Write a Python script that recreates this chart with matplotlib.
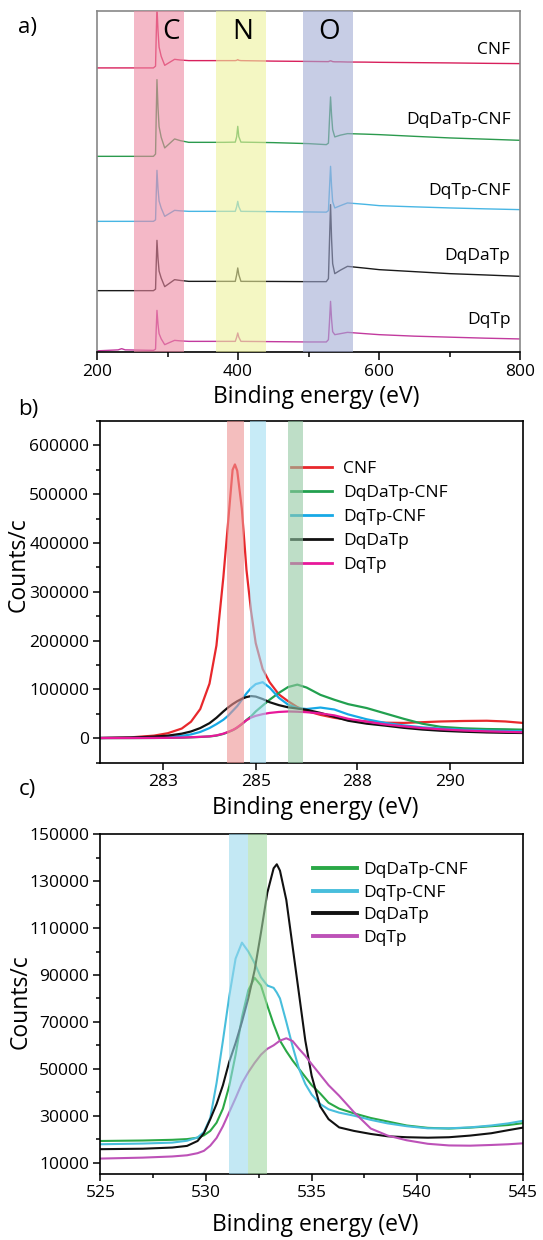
import matplotlib
matplotlib.use("Agg")
import matplotlib.pyplot as plt
from matplotlib.ticker import MultipleLocator

plt.rcParams['font.family'] = ['Open Sans', 'DejaVu Sans']

# ---------------- (a) survey spectra, stacked ----------------
survey_ev = [200, 230, 235, 240, 280, 283, 284, 285, 286.5, 288, 291, 296, 303, 310, 318,
             330, 380, 396, 398, 399.5, 401, 404, 450, 500, 525, 528, 529.5, 531, 532.5,
             534, 537, 545, 555, 580, 600, 650, 700, 750, 800]
survey_cnf = [283.7, 283.7, 283.7, 283.7, 283.7, 285.5, 317.4, 345, 320.7, 304.5, 295.3, 286.3,
              289.3, 292.3, 291.6, 291, 291, 291, 291.3, 292, 291.3, 291, 290.5, 290.2, 290,
              290, 290.5, 290.8, 290.5, 290, 289.8, 289.8, 289.6, 289.5, 289.3, 289, 288.7,
              288.3, 288]
survey_dqdatp_cnf = [195.3, 195.3, 195.3, 195.3, 195.3, 197.6, 237.5, 272, 243.8, 225, 214.3,
                     203.7, 208.2, 212.7, 211, 209.3, 209.3, 209.5, 215, 225.3, 215, 209.5, 209,
                     208, 207, 208.5, 232, 254.7, 236, 222, 214.7, 216.5, 218, 217.5, 217,
                     215.3, 213.7, 212.5, 211.3]
survey_dqtp_cnf = [130.3, 130.3, 130.3, 130.3, 130.3, 131.8, 158.4, 181.3, 162.8, 150.6, 143.6,
                   135.3, 138.3, 141.3, 140.8, 140.3, 140.3, 140.3, 145, 150.3, 145, 140.3, 140,
                   139.7, 139.5, 141, 163, 185.3, 165, 150, 143.7, 146, 148.7, 147.3, 146,
                   144.8, 143.7, 142.8, 142]
survey_dqdatp = [61, 61, 61, 61, 61, 62.5, 88.7, 111.3, 92.9, 80.6, 73.6, 65, 68.5, 72, 71.2,
                 70.3, 70.3, 70.3, 77, 83.7, 77, 70.3, 70.2, 70, 70, 73, 110, 147, 112, 88, 78,
                 81.5, 85.3, 83.5, 82, 80, 78, 76.7, 75.3]
survey_dqtp = [0.8, 1.8, 3, 1.8, 1.3, 2.5, 23.3, 41.3, 27.3, 18, 12.8, 7, 9.2, 11.3, 10.8, 10.3,
               10.3, 10.3, 14.5, 18.7, 14.5, 10.3, 10, 9.7, 9.7, 12, 30, 50.3, 32, 20, 17, 18,
               19.3, 18, 17, 15.5, 14.5, 13.5, 12.7]

survey_names = ['CNF', 'DqDaTp-CNF', 'DqTp-CNF', 'DqDaTp', 'DqTp']
survey_label_y = [302, 232, 160.3, 96, 31.3]
element_names = ['C', 'N', 'O']
element_x = [305.5, 406, 528.7]

# ---------------- (b) C 1s ----------------
c1s_ev = [281.64, 282.3, 282.8, 283.1, 283.4, 283.6, 283.8, 284.0, 284.15, 284.3, 284.4, 284.5,
          284.55, 284.6, 284.7, 284.8, 284.9, 285.0, 285.15, 285.3, 285.5, 285.7, 285.9, 286.1,
          286.4, 286.7, 287.0, 287.4, 287.8, 288.2, 288.6, 289.0, 289.5, 290.0, 290.4, 290.78]
c1s_cnf = [700, 2000, 5500, 10500, 20000, 34000, 60000, 112000, 190000, 330000, 440000, 550000,
           561000, 548000, 470000, 345000, 260000, 195000, 142000, 115000, 90000, 76000, 64000,
           56000, 48000, 42000, 38000, 34500, 32000, 31500, 33000, 34500, 35500, 36000, 34500,
           31500]
c1s_dqdatp_cnf = [400, 500, 700, 900, 1300, 2000, 2800, 3800, 5500, 9000, 12500, 16500, 19000,
                  22000, 29000, 37500, 45000, 55000, 67000, 79000, 93000, 105000, 110000, 104000,
                  89000, 79000, 70000, 62000, 51000, 40000, 30000, 23500, 20500, 19000, 18500,
                  17700]
c1s_dqtp_cnf = [700, 1000, 1800, 2800, 5000, 8000, 13000, 21000, 29000, 38000, 46000, 56000,
                61000, 66000, 79000, 92000, 103000, 111000, 115000, 104000, 83000, 69000, 62000,
                60000, 63000, 59000, 49000, 39000, 31500, 26500, 22500, 20000, 17500, 15800,
                15000, 14300]
c1s_dqdatp = [700, 1500, 3500, 5500, 9500, 14000, 21000, 31000, 42000, 55000, 63000, 70000,
              73000, 76000, 81000, 84500, 86500, 85500, 80500, 74000, 68000, 63500, 61000, 58500,
              52000, 44000, 36000, 30000, 26000, 21500, 18000, 15500, 13500, 12000, 11300, 10900]
c1s_dqtp = [500, 600, 800, 1000, 1500, 2200, 3000, 4000, 6000, 9500, 13000, 17000, 19500, 22500,
            29500, 37000, 42500, 46000, 49500, 52000, 54000, 55000, 54500, 53500, 51000, 47000,
            40000, 34000, 28500, 24500, 21000, 18500, 16000, 14300, 13300, 12300]
c1s_ticks = [283, 285, 287.2, 289.2]
c1s_ticklabels = ['283', '285', '288', '290']
c1s_bands = [(284.38, 284.74), (284.88, 285.22), (285.69, 286.03)]

# ---------------- (c) O 1s ----------------
o1s_ev = [525, 527, 528.4, 529.1, 529.6, 529.9, 530.2, 530.5, 530.8, 531.1, 531.4, 531.7, 532.0,
          532.3, 532.6, 532.9, 533.2, 533.35, 533.5, 533.8, 534.1, 534.4, 534.7, 535.0, 535.4,
          535.8, 536.3, 537.0, 537.8, 538.6, 539.5, 540.5, 541.5, 542.5, 543.5, 544.3, 545]
o1s_dqdatp_cnf = [19200, 19400, 19700, 20000, 20600, 21600, 23500, 27000, 33000, 42700, 56000,
                  72000, 83500, 88800, 85500, 77000, 69000, 65500, 62000, 57500, 53500, 50000,
                  46500, 43000, 39500, 35500, 33000, 31000, 29000, 27500, 25800, 24800, 24500,
                  24900, 25500, 26000, 26800]
o1s_dqtp_cnf = [17800, 18100, 18500, 19300, 20700, 23000, 29000, 44000, 62000, 81000, 97000,
                103800, 100000, 95000, 89000, 85500, 84500, 82500, 80000, 70000, 59500, 50000,
                43500, 39000, 35000, 32700, 31300, 30000, 28200, 26700, 25500, 24600, 24600,
                25000, 25800, 26700, 27800]
o1s_dqdatp = [15700, 15900, 16400, 17100, 19200, 22500, 28500, 35000, 43000, 53000, 61000, 70000,
              80000, 92000, 108000, 125000, 135500, 137200, 134500, 122000, 102000, 82000, 62000,
              47000, 34000, 28500, 25000, 23500, 22200, 21200, 20800, 20600, 20800, 21500, 22500,
              23800, 24900]
o1s_dqtp = [11700, 12100, 12600, 13100, 14000, 15000, 17200, 20500, 25500, 31500, 37500, 43800,
            48500, 52500, 56000, 58500, 60000, 61000, 62000, 63000, 61800, 58500, 55500, 52000,
            47500, 43000, 38500, 31500, 24500, 21500, 19500, 18000, 17300, 17200, 17500, 17800,
            18200]
o1s_bands = [(531.11, 532.0), (532.0, 532.87)]

fig = plt.figure(figsize=(5.43, 12.4), dpi=100)
ax_a = fig.add_axes([0.1786, 0.7164, 0.7797, 0.2748])
ax_b = fig.add_axes([0.1849, 0.3849, 0.7781, 0.2756])
ax_c = fig.add_axes([0.1849, 0.0530, 0.7781, 0.2742])

tick_fs = 12.5
label_fs = 16.5
text_fs = 12.5

# --- panel a
survey_colors = ['#d8205c', '#2b9a4d', '#48b6e4', '#1a1a1a', '#c23a9e']
for ys, col in zip([survey_cnf, survey_dqdatp_cnf, survey_dqtp_cnf, survey_dqdatp, survey_dqtp],
                   survey_colors):
    ax_a.plot(survey_ev, ys, color=col, lw=1.0, zorder=2)
for (x0, x1), col in zip([(252.4, 324), (369.2, 439.3), (492.3, 563)],
                         ['#ee8aa3', '#eef29b', '#a3acd5']):
    ax_a.axvspan(x0, x1, color=col, alpha=0.6, lw=0, zorder=3)
for name, yl in zip(survey_names, survey_label_y):
    ax_a.text(786, yl, name, ha='right', va='center', fontsize=text_fs, zorder=4)
for el, xe in zip(element_names, element_x):
    ax_a.text(xe, 320, el, ha='center', va='center', fontsize=20, zorder=4)
ax_a.set_xlim(200, 800)
ax_a.set_ylim(0, 340.7)
ax_a.set_yticks([])
ax_a.xaxis.set_major_locator(MultipleLocator(200))
ax_a.xaxis.set_minor_locator(MultipleLocator(100))
for side in ['left', 'top', 'right']:
    ax_a.spines[side].set_color('#888888')
    ax_a.spines[side].set_linewidth(1.2)
ax_a.spines['bottom'].set_linewidth(1.2)
ax_a.tick_params(axis='x', which='major', direction='out', length=6, width=1.1,
                 labelsize=tick_fs, pad=3)
ax_a.tick_params(axis='x', which='minor', direction='out', length=3.5, width=1.1)
ax_a.set_xlabel('Binding energy (eV)', fontsize=label_fs)
ax_a.xaxis.set_label_coords(0.519, -0.133)
ax_a.xaxis.label.set_va('center')

# --- panel b
c1s_colors = ['#e8282c', '#22a04f', '#17a9e6', '#111111', '#e8189a']
for ys, col, name in zip([c1s_cnf, c1s_dqdatp_cnf, c1s_dqtp_cnf, c1s_dqdatp, c1s_dqtp],
                         c1s_colors, survey_names):
    ax_b.plot(c1s_ev, ys, color=col, lw=1.6, label=name, zorder=2)
for (x0, x1), col in zip(c1s_bands, ['#ee9393', '#a3def3', '#93c8a3']):
    ax_b.axvspan(x0, x1, color=col, alpha=0.6, lw=0, zorder=6)
leg_b = ax_b.legend(loc='upper left', bbox_to_anchor=(0.451, 0.883), frameon=False,
                    fontsize=text_fs, handlelength=2.36, handletextpad=0.63,
                    labelspacing=0.45, borderpad=0, borderaxespad=0)
for ln in leg_b.get_lines():
    ln.set_linewidth(2.0)
ax_b.set_xlim(281.64, 290.78)
ax_b.set_ylim(-50000, 650000)
ax_b.set_xticks(c1s_ticks)
ax_b.set_xticklabels(c1s_ticklabels)
ax_b.yaxis.set_minor_locator(MultipleLocator(50000))
ax_b.set_yticks([0, 100000, 200000, 300000, 400000, 500000, 600000])
ax_b.set_xlabel('Binding energy (eV)', fontsize=label_fs)
ax_b.xaxis.set_label_coords(0.508, -0.133)
ax_b.xaxis.label.set_va('center')
ax_b.set_ylabel('Counts/c', fontsize=label_fs)
ax_b.yaxis.set_label_coords(-0.193, 0.581)
ax_b.yaxis.label.set_va('center')

# --- panel c
o1s_colors = ['#2aa846', '#48bedc', '#111111', '#bd52b8']
for ys, col, name in zip([o1s_dqdatp_cnf, o1s_dqtp_cnf, o1s_dqdatp, o1s_dqtp],
                         o1s_colors, survey_names[1:]):
    ax_c.plot(o1s_ev, ys, color=col, lw=1.5, label=name, zorder=2)
for (x0, x1), col in zip(o1s_bands, ['#9bd9ee', '#a3d9a3']):
    ax_c.axvspan(x0, x1, color=col, alpha=0.6, lw=0, zorder=6)
leg_c = ax_c.legend(loc='upper left', bbox_to_anchor=(0.503, 0.918), frameon=False,
                    fontsize=text_fs, handlelength=2.53, handletextpad=0.38,
                    labelspacing=0.37, borderpad=0, borderaxespad=0)
for ln in leg_c.get_lines():
    ln.set_linewidth(2.8)
ax_c.set_xlim(525, 545)
ax_c.set_ylim(5000, 150000)
ax_c.xaxis.set_major_locator(MultipleLocator(5))
ax_c.xaxis.set_minor_locator(MultipleLocator(2.5))
ax_c.set_yticks(list(range(10000, 150001, 20000)))
ax_c.yaxis.set_minor_locator(MultipleLocator(10000))
ax_c.set_xlabel('Binding energy (eV)', fontsize=label_fs)
ax_c.xaxis.set_label_coords(0.508, -0.149)
ax_c.xaxis.label.set_va('center')
ax_c.set_ylabel('Counts/c', fontsize=label_fs)
ax_c.yaxis.set_label_coords(-0.188, 0.508)
ax_c.yaxis.label.set_va('center')

for ax in (ax_b, ax_c):
    for sp in ax.spines.values():
        sp.set_linewidth(1.2)
    ax.tick_params(which='major', direction='out', length=5, width=1.1,
                   labelsize=tick_fs, pad=3)
    ax.tick_params(which='minor', direction='out', length=3, width=1.1)

fig.text(27.7 / 543, 1 - 28 / 1240, 'a)', fontsize=16, ha='center', va='center')
fig.text(28.5 / 543, 1 - 409 / 1240, 'b)', fontsize=16, ha='center', va='center')
fig.text(27 / 543, 1 - 790 / 1240, 'c)', fontsize=16, ha='center', va='center')

fig.savefig('out.png', dpi=100)
